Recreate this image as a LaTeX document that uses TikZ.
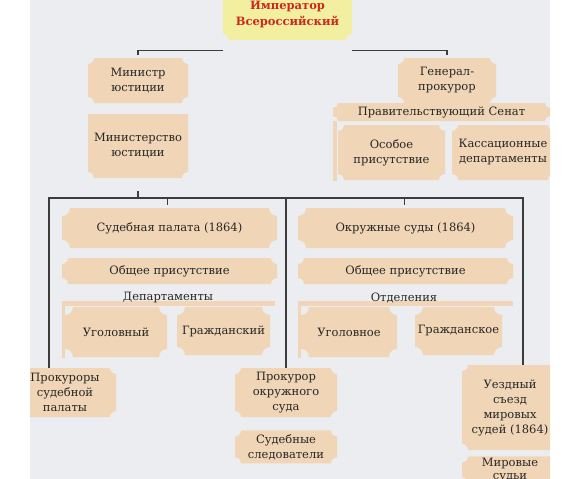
\documentclass[tikz,border=0pt]{standalone}
\usepackage{fontspec}
\setmainfont{DejaVu Serif}
\usepackage{tikz}
\usetikzlibrary{
  calc,
  positioning,
}
\definecolor{panelgray}{RGB}{236,237,240}
\definecolor{plaquetan}{RGB}{240,214,182}
\definecolor{crownyellow}{RGB}{242,240,160}
\definecolor{crownred}{RGB}{205,40,30}
\definecolor{linegray}{RGB}{60,60,60}
\tikzset{
  plaque/.style={path picture={
    \fill[plaquetan] let \p1=(path picture bounding box.south west), \p2=(path picture bounding box.north east) in
      (\x1+#1,\y2) -- (\x2-#1,\y2) arc[start angle=180,end angle=270,radius=#1]
      -- (\x2,\y1+#1) arc[start angle=90,end angle=180,radius=#1]
      -- (\x1+#1,\y1) arc[start angle=0,end angle=90,radius=#1]
      -- (\x1,\y2-#1) arc[start angle=270,end angle=360,radius=#1] -- cycle;}},
  plaque/.default=6pt,
  lowplaque/.style={path picture={
    \fill[#1] let \p1=(path picture bounding box.south west), \p2=(path picture bounding box.north east) in
      (\x1,\y2) -- (\x2,\y2)
      -- (\x2,\y1+6pt) arc[start angle=90,end angle=180,radius=6pt]
      -- (\x1+6pt,\y1) arc[start angle=0,end angle=90,radius=6pt] -- cycle;}},
  lowplaque/.default=plaquetan,
}
\tikzstyle{box} = [
  rectangle,
  inner sep=0pt,
  align=center,
  text=black!85,
  font=\fontsize{11.5}{15}\selectfont,
]
\tikzstyle{link} = [
  draw=linegray,
  line width=1.3pt,
]
\tikzstyle{strip} = [
  rectangle,
  inner sep=0pt,
  fill=plaquetan,
]

\begin{document}
\begin{tikzpicture}[x=1pt,y=-1pt]
    \useasboundingbox (0,0) rectangle (576,479);
    \begin{scope}
        \clip (30,0) rectangle (550,479);
        \fill[panelgray] (30,0) rectangle (550,479);

        % top level
        \node[box,lowplaque=crownyellow,minimum width=129,minimum height=50,text=crownred,font=\fontsize{11.5}{16}\selectfont\bfseries] (emp) at (287.5,15) {Император\\Всероссийский};
        \node[box,plaque,minimum width=100,minimum height=45] (minist) at (138,80.5) {Министр\\юстиции};
        \node[box,plaque,minimum width=98,minimum height=45] (genpr) at (447,80.5) {Генерал-\\прокурор};
        \node[box,lowplaque,minimum width=100,minimum height=64] (minju) at (138,146) {Министерство\\юстиции};

        % senate
        \node[box,plaque=5pt,minimum width=217,minimum height=18] (senat) at (441.5,112) {Правительствующий Сенат};
        \fill[plaquetan] (senat.south west) rectangle ++(4,60);
        \node[box,plaque,minimum width=107,minimum height=55] (osob) at (391.5,152.5) {Особое\\присутствие};
        \node[box,plaque,minimum width=102,minimum height=55] (kass) at (503,152.5) {Кассационные\\департаменты};

        % courts
        \node[box,plaque=8pt,minimum width=215,minimum height=40] (sudpal) at (169.5,228) {Судебная палата (1864)};
        \node[box,plaque=8pt,minimum width=215,minimum height=40] (okrsud) at (405.5,228) {Окружные суды (1864)};
        \node[box,plaque,minimum width=215,minimum height=26] (obshA) at (169.5,271) {Общее присутствие};
        \node[box,plaque,minimum width=215,minimum height=26] (obshB) at (405.5,271) {Общее присутствие};

        \node[strip,minimum width=213,minimum height=5] (depstrip) at (168.5,303.5) {};
        \fill[plaquetan] (depstrip.south west) rectangle ++(3,52);
        \node[box] (deptitle) at (168,298) {Департаменты};
        \node[strip,minimum width=215,minimum height=5] (otdstrip) at (405.5,303.5) {};
        \fill[plaquetan] (otdstrip.south west) rectangle ++(3,52);
        \node[box] (otdtitle) at (404,298) {Отделения};

        \node[box,plaque=8pt,minimum width=102,minimum height=50] (uglA) at (116,332) {Уголовный};
        \node[box,plaque=8pt,minimum width=93,minimum height=48] (grazhA) at (223.5,331) {Гражданский};
        \node[box,plaque=8pt,minimum width=96,minimum height=50] (uglB) at (349,332) {Уголовное};
        \node[box,plaque=8pt,minimum width=87,minimum height=48] (grazhB) at (458.5,331) {Гражданское};

        % bottom
        \node[box,plaque,minimum width=102,minimum height=49] (prokA) at (65,392.5) {Прокуроры\\судебной\\палаты};
        \node[box,plaque,minimum width=102,minimum height=49] (prokB) at (286,392.5) {Прокурор\\окружного\\суда};
        \node[box,plaque,minimum width=102,minimum height=33] (sledov) [below=13pt of prokB] {Судебные\\следователи};
        \node[box,plaque,minimum width=96,minimum height=85] (uezd) at (510,407.5) {Уездный\\съезд\\мировых\\судей (1864)};
        \node[box,plaque,minimum width=96,minimum height=27,font=\fontsize{11.5}{12.5}\selectfont] (mirov) [below=6pt of uezd] {Мировые\\судьи};

        % connectors
        \draw[link] ([yshift=-10pt]emp.south west) -| ([yshift=3pt]minist.north);
        \draw[link] ([yshift=-10pt]emp.south east) -| ([yshift=3pt]genpr.north);

        \coordinate (busL) at (49,198);
        \coordinate (busR) at (523,198);
        \draw[link] (busL |- prokA.north) -- (busL) -- (busR) -- (busR |- uezd.north);
        \draw[link] (prokB.north |- busL) -- (prokB.north);
        \draw[link] (minju.south |- busL) -- ++(0,-7);
        \draw[link] (sudpal.north |- busL) ++(-2,0) -- ++(0,7);
        \draw[link] (okrsud.north |- busL) ++(-1,0) -- ++(0,7);
    \end{scope}
\end{tikzpicture}
\end{document}
